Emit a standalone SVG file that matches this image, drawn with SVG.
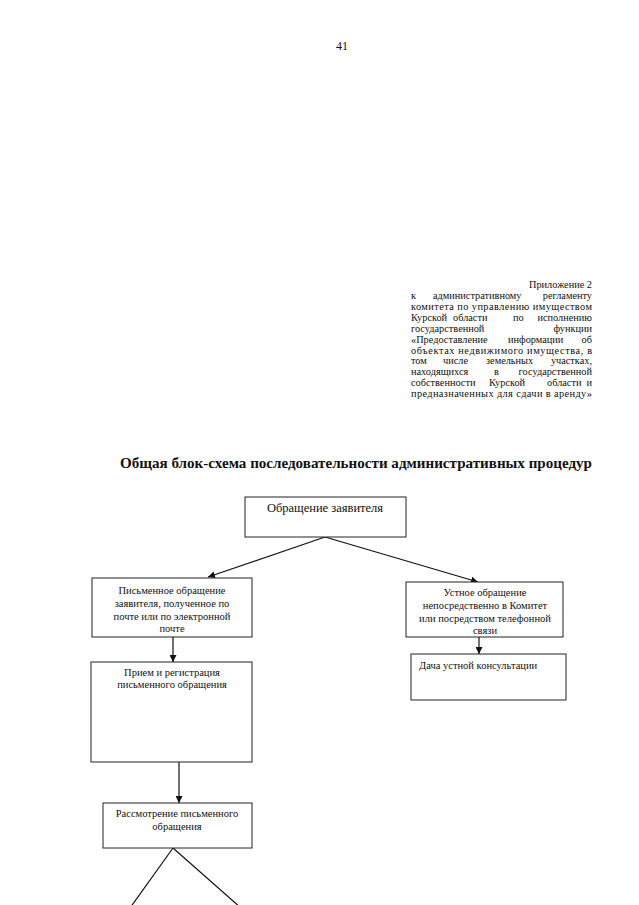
<svg xmlns="http://www.w3.org/2000/svg" width="639" height="905" viewBox="0 0 639 905">
<style>
text{font-family:"Liberation Serif","Times New Roman",serif;fill:#111}
.app{font-size:10.3px}
.t{font-size:10.5px;text-anchor:middle}
.box{fill:#fff;stroke:#222;stroke-width:1}
.c{stroke:#111;stroke-width:1.2;fill:none}
</style>
<defs>
<marker id="ah" viewBox="0 0 10 10" refX="10" refY="5" markerWidth="7" markerHeight="7" markerUnits="userSpaceOnUse" orient="auto">
<path d="M0,0 L10,5 L0,10 z" fill="#111"/>
</marker>
</defs>
<rect width="639" height="905" fill="#fff"/>
<text x="342" y="50" style="font-size:12px" text-anchor="middle">41</text>
<g id="appendix" class="app">
<text x="592" y="288" text-anchor="end">Приложение 2</text>
<text x="411" y="299">к</text><text x="433" y="299">административному</text><text x="592" y="299" text-anchor="end">регламенту</text>
<text x="411" y="310" textLength="181" lengthAdjust="spacing">комитета по управлению имуществом</text>
<text x="411" y="321">Курской</text><text x="453" y="321">области</text><text x="513" y="321">по</text><text x="592" y="321" text-anchor="end">исполнению</text>
<text x="411" y="332">государственной</text><text x="592" y="332" text-anchor="end">функции</text>
<text x="411" y="343">«Предоставление</text><text x="508" y="343">информации</text><text x="592" y="343" text-anchor="end">об</text>
<text x="411" y="354" textLength="181" lengthAdjust="spacing">объектах недвижимого имущества, в</text>
<text x="411" y="364">том</text><text x="443" y="364">числе</text><text x="486" y="364">земельных</text><text x="592" y="364" text-anchor="end">участках,</text>
<text x="411" y="375">находящихся</text><text x="494" y="375">в</text><text x="592" y="375" text-anchor="end">государственной</text>
<text x="411" y="386">собственности</text><text x="489" y="386">Курской</text><text x="547" y="386">области</text><text x="592" y="386" text-anchor="end">и</text>
<text x="411" y="397" textLength="181" lengthAdjust="spacing">предназначенных для сдачи в аренду»</text>
</g>
<text id="title" x="356" y="468" text-anchor="middle" style="font-size:15px;font-weight:bold" textLength="472" lengthAdjust="spacingAndGlyphs">Общая блок-схема последовательности административных процедур</text>
<g id="connectors">
<line class="c" x1="325" y1="537" x2="208" y2="577" marker-end="url(#ah)"/>
<line class="c" x1="325" y1="537" x2="478" y2="582" marker-end="url(#ah)"/>
<line class="c" x1="173" y1="637" x2="173" y2="662" marker-end="url(#ah)"/>
<line class="c" x1="479" y1="637" x2="479" y2="654" marker-end="url(#ah)"/>
<line class="c" x1="179" y1="762" x2="179" y2="803" marker-end="url(#ah)"/>
<line class="c" x1="173" y1="848" x2="130" y2="908"/>
<line class="c" x1="173" y1="848" x2="241" y2="908"/>
</g>
<g id="n1">
<rect class="box" x="245" y="497" width="161" height="40"/>
<text x="325" y="512" style="font-size:12.5px" text-anchor="middle">Обращение заявителя</text>
</g>
<g id="n2">
<rect class="box" x="92" y="578" width="160" height="59"/>
<text class="t" x="172" y="594">Письменное обращение</text>
<text class="t" x="172" y="607">заявителя, полученное по</text>
<text class="t" x="172" y="620">почте или по электронной</text>
<text class="t" x="172" y="632">почте</text>
</g>
<g id="n3">
<rect class="box" x="406" y="582" width="157" height="55"/>
<text class="t" x="485" y="596">Устное обращение</text>
<text class="t" x="485" y="609">непосредственно в Комитет</text>
<text class="t" x="485" y="622">или посредством телефонной</text>
<text class="t" x="485" y="634">связи</text>
</g>
<g id="n4">
<rect class="box" x="411" y="654" width="155" height="46"/>
<text x="419" y="669" style="font-size:10.5px">Дача устной консультации</text>
</g>
<g id="n5">
<rect class="box" x="91" y="662" width="161" height="100"/>
<text class="t" x="172" y="676">Прием и регистрация</text>
<text class="t" x="172" y="688">письменного обращения</text>
</g>
<g id="n6">
<rect class="box" x="103" y="803" width="149" height="45"/>
<text class="t" x="177" y="817">Рассмотрение письменного</text>
<text class="t" x="177" y="830">обращения</text>
</g>
</svg>
